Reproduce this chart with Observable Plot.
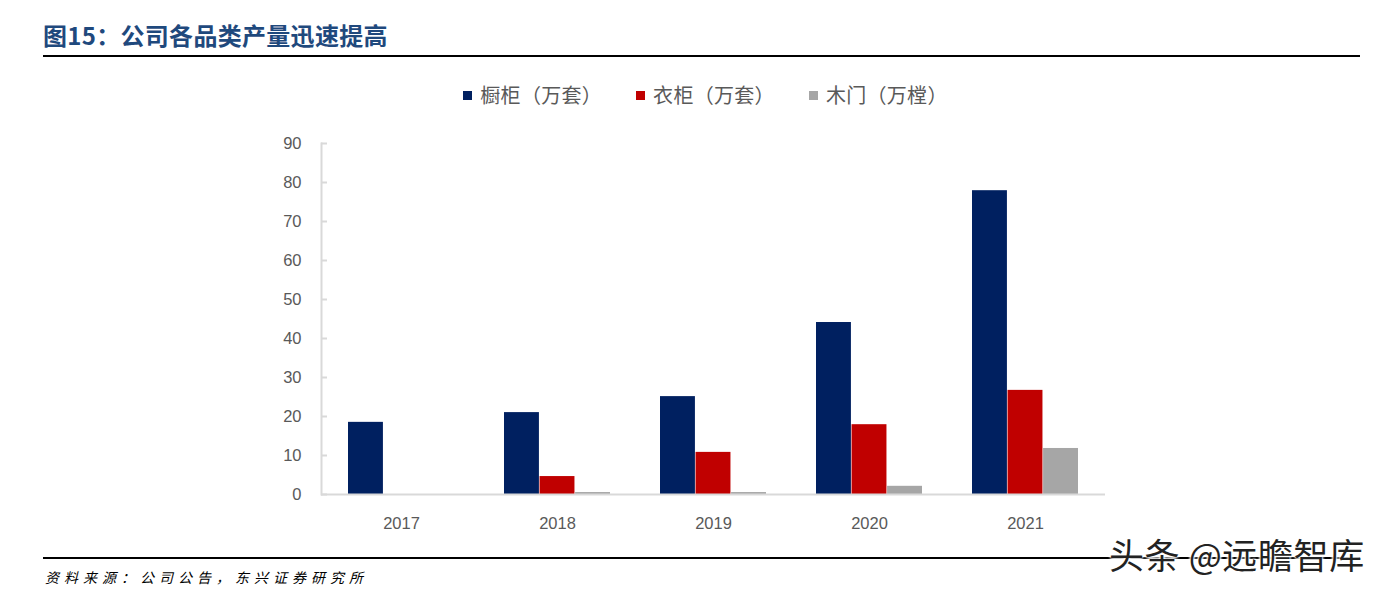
<!DOCTYPE html>
<html>
<head>
<meta charset="utf-8">
<script src="https://cdn.jsdelivr.net/npm/d3@7"></script>
<script src="https://cdn.jsdelivr.net/npm/@observablehq/plot@0.6"></script>
<style>
  html, body { margin: 0; padding: 0; background: #fff; }
  #page { position: relative; width: 1381px; height: 594px; overflow: hidden; font-family: "Liberation Sans", Arial, sans-serif; }
  #title { position: absolute; left: 43px; top: 19px; font-family: "Noto Sans CJK SC", sans-serif; font-weight: 700; font-size: 24px; color: #1F497D; line-height: 32px; letter-spacing: 0.3px; }
  #rule1 { position: absolute; left: 43px; top: 55px; width: 1317px; height: 2px; background: #000; }
  #legend { position: absolute; left: 0; top: 81px; width: 1381px; display: flex; justify-content: center; padding-left: 30px; box-sizing: border-box; font-family: "Noto Sans CJK SC", serif; font-size: 20px; color: #595959; line-height: 28px; }
  #legend .item { display: flex; align-items: center; margin: 0 17px; letter-spacing: 0.3px; }
  #legend .sw { width: 9px; height: 9px; margin-right: 8px; }
  #chart { position: absolute; left: 0; top: 120px; }
  #rule2 { position: absolute; left: 43px; top: 557px; width: 1317px; height: 2px; background: #000; }
  #source { position: absolute; left: 45px; top: 567px; font-family: "Noto Sans CJK SC", sans-serif; font-size: 14px; font-style: italic; color: #000; letter-spacing: 5px; line-height: 20px; }
  #wm { position: absolute; left: 1109px; top: 534px; font-family: "Noto Sans CJK SC", sans-serif; font-size: 35px; color: #222; line-height: 40px; letter-spacing: 0.6px; text-shadow: 0 0 3px #fff, 0 0 3px #fff, 0 0 3px #fff, 0 0 3px #fff; white-space: nowrap; }
</style>
</head>
<body>
<div id="page">
  <div id="title">图15：公司各品类产量迅速提高</div>
  <div id="rule1"></div>
  <div id="legend"></div>
  <div id="chart"></div>
  <div id="rule2"></div>
  <div id="source">资料来源：公司公告，东兴证券研究所</div>
  <div id="wm">头条 @远瞻智库</div>
</div>
<script>
// ---- data ----
const years = ["2017", "2018", "2019", "2020", "2021"];
const seriesNames = ["橱柜（万套）", "衣柜（万套）", "木门（万樘）"];
const cabinet = [18.5, 21.0, 25.1, 44.1, 77.9];
const wardrobe = [null, 4.6, 10.8, 17.9, 26.7];
const door = [null, 0.5, 0.5, 2.1, 11.8];
const yTicks = [0, 10, 20, 30, 40, 50, 60, 70, 80, 90];
const colors = ["#002060", "#C00000", "#A6A6A6"];

const seriesValues = [cabinet, wardrobe, door];
const rows = [];
seriesValues.forEach((vals, si) => {
  years.forEach((y, yi) => {
    if (vals[yi] != null) rows.push({year: y, series: seriesNames[si], si, value: vals[yi]});
  });
});

// ---- layout ----
const W = 1381, H = 430;
const mL = 321, mR = 276, mT = 23, mB = 56;
const padIn = 0.32, padOut = 0.16;
const step = (W - mL - mR) / (years.length - padIn + 2 * padOut);
const band = step * (1 - padIn);
const bw = band / 3;

const barMarks = seriesNames.map((name, si) =>
  Plot.barY(rows.filter(d => d.si === si), {
    x: "year", y: "value", fill: colors[si],
    insetLeft: si * bw, insetRight: (2 - si) * bw
  })
);

const plot = Plot.plot({
  width: W, height: H,
  marginLeft: mL, marginRight: mR, marginTop: mT, marginBottom: mB,
  style: {fontFamily: "'Liberation Sans', Arial, sans-serif", fontSize: "16.5px", color: "#595959", background: "transparent"},
  x: {type: "band", domain: years, paddingInner: padIn, paddingOuter: padOut, label: null},
  y: {domain: [0, 90], label: null},
  marks: [
    ...barMarks,
    Plot.ruleY([0], {stroke: "#D9D9D9", strokeWidth: 2}),
    Plot.frame({anchor: "left", stroke: "#D9D9D9", strokeWidth: 2}),
    Plot.axisY({ticks: yTicks, tickSize: 0, tickPadding: 20, fill: "#595959", label: null}),
    Plot.axisY({ticks: yTicks, tickSize: -6, tickFormat: () => "", stroke: "#D9D9D9", strokeWidth: 2, label: null}),
    Plot.axisX({tickSize: 0, tickPadding: 23, fill: "#595959", label: null})
  ]
});
document.getElementById("chart").appendChild(plot);

// ---- legend ----
const legend = document.getElementById("legend");
seriesNames.forEach((name, i) => {
  const item = document.createElement("div");
  item.className = "item";
  const sw = document.createElement("div");
  sw.className = "sw";
  sw.style.background = colors[i];
  const t = document.createElement("span");
  t.textContent = name;
  item.appendChild(sw);
  item.appendChild(t);
  legend.appendChild(item);
});
</script>
</body>
</html>
